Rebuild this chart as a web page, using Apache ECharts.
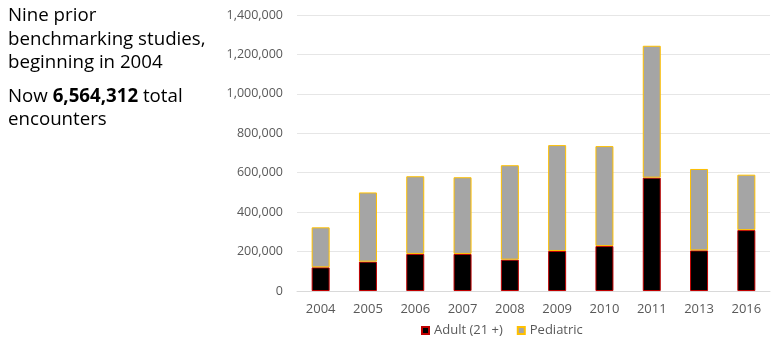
<!DOCTYPE html>
<html><head><meta charset="utf-8">
<script src="https://cdn.jsdelivr.net/npm/echarts@6/dist/echarts.min.js"></script>
<style>html,body{margin:0;padding:0;background:#fff}#c{width:778px;height:342px}</style>
</head><body><div id="c"></div>
<script>
const years = ['2004','2005','2006','2007','2008','2009','2010','2011','2013','2016'];
const adult = [120000,149000,188000,188000,159000,203000,228000,575000,206000,309000];
const pediatric = [203000,351000,394000,389000,479000,537000,507000,669000,413000,281000];
const yTicks = {min:0, max:1400000, interval:200000};

const chart = echarts.init(document.getElementById('c'));
const font = 'Open Sans';
const big = '18.7px "Open Sans"';
chart.setOption({
  animation:false,
  grid:{left:297, right:8, top:15, bottom:51},
  legend:{
    left:416, top:319, itemWidth:7, itemHeight:7, itemGap:14, icon:'rect',
    textStyle:{fontFamily:font, fontSize:13, color:'#595959'},
    data:['Adult (21 +)','Pediatric']
  },
  xAxis:{type:'category', data:years,
    axisLine:{show:true, lineStyle:{color:'#d9d9d9'}}, axisTick:{show:false},
    axisLabel:{fontFamily:font, fontSize:13, color:'#595959', margin:12}},
  yAxis:{type:'value', min:yTicks.min, max:yTicks.max, interval:yTicks.interval,
    axisLine:{show:false}, axisTick:{show:false},
    splitLine:{lineStyle:{color:'#e6e6e6'}},
    axisLabel:{fontFamily:font, fontSize:12.5, color:'#595959', margin:14,
      formatter:v=>v.toLocaleString('en-US')}},
  series:[
    {name:'Adult (21 +)', type:'bar', stack:'t', data:adult, barWidth:18,
     itemStyle:{color:'#000', borderColor:'#c00000', borderWidth:1}},
    {name:'Pediatric', type:'bar', stack:'t', data:pediatric, barWidth:18,
     itemStyle:{color:'#a5a5a5', borderColor:'#ffc000', borderWidth:1}}
  ],
  graphic:[
    {type:'text', left:8, top:6, style:{text:'Nine prior', font:big, fill:'#000'}},
    {type:'text', left:8, top:30, style:{text:'benchmarking studies,', font:big, fill:'#000'}},
    {type:'text', left:8, top:53, style:{text:'beginning in 2004', font:big, fill:'#000'}},
    {type:'text', left:8, top:87, style:{
      text:'Now {b|6,564,312} total', font:big, fill:'#000',
      rich:{b:{fontWeight:'bold', fontSize:18.7, fontFamily:'Open Sans'}}}},
    {type:'text', left:8, top:110, style:{text:'encounters', font:big, fill:'#000'}}
  ]
});
</script></body></html>
